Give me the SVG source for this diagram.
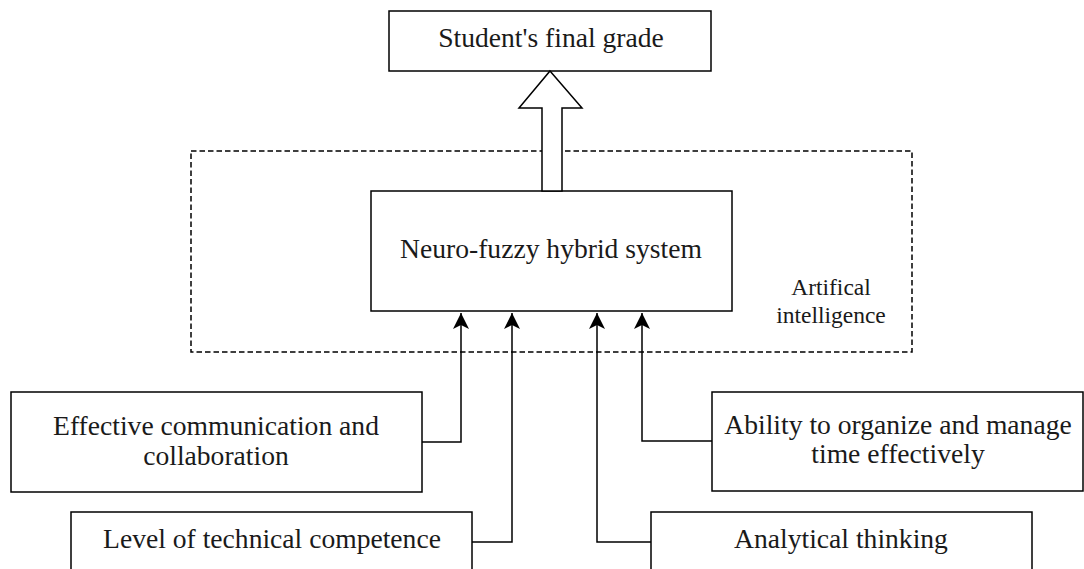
<svg xmlns="http://www.w3.org/2000/svg" width="1084" height="569" viewBox="0 0 1084 569">
<style>
.box{fill:#fff;stroke:#000;stroke-width:1.5}
.t{font-family:"Liberation Serif","Times New Roman",serif;font-size:27.6px;fill:#1a1a1a;text-anchor:middle}
.s{font-family:"Liberation Serif","Times New Roman",serif;font-size:23.5px;fill:#1a1a1a;text-anchor:middle}
.c{fill:none;stroke:#000;stroke-width:1.5}
</style>
<defs>
<marker id="ah" markerUnits="userSpaceOnUse" viewBox="0 0 16 16" markerWidth="16" markerHeight="16" refX="16" refY="8" orient="auto">
<path d="M0,0 L16,8 L0,16 L4,8 Z" fill="#000"/>
</marker>
</defs>
<rect width="1084" height="569" fill="#fff"/>
<g id="ai-region">
<rect x="191" y="151" width="721" height="201" fill="none" stroke="#000" stroke-width="1.5" stroke-dasharray="5.5,3"/>
<text class="s" x="831" y="295">Artifical</text>
<text class="s" x="831" y="323">intelligence</text>
</g>
<g id="final-grade">
<rect class="box" x="389" y="11" width="322" height="60"/>
<text class="t" x="551" y="47">Student's final grade</text>
</g>
<g id="neuro-fuzzy">
<rect class="box" x="371" y="191" width="361" height="120"/>
<text class="t" x="551" y="258">Neuro-fuzzy hybrid system</text>
</g>
<g id="communication">
<rect class="box" x="11" y="392" width="411" height="100"/>
<text class="t" x="216" y="435">Effective communication and</text>
<text class="t" x="216" y="465">collaboration</text>
</g>
<g id="technical">
<rect class="box" x="71" y="512" width="401" height="90"/>
<text class="t" x="272" y="548">Level of technical competence</text>
</g>
<g id="time-management">
<rect class="box" x="712" y="392" width="371" height="99"/>
<text class="t" x="898" y="434">Ability to organize and manage</text>
<text class="t" x="898" y="463">time effectively</text>
</g>
<g id="analytical">
<rect class="box" x="651" y="512" width="381" height="90"/>
<text class="t" x="841" y="548">Analytical thinking</text>
</g>
<g id="connectors">
<polygon points="550,71 582,108 562,108 562,191 542,191 542,108 519,108" fill="#fff" stroke="#000" stroke-width="1.5" stroke-linejoin="miter"/>
<path class="c" d="M422,442 H461 V313" marker-end="url(#ah)"/>
<path class="c" d="M472,542 H512 V313" marker-end="url(#ah)"/>
<path class="c" d="M651,542 H597 V313" marker-end="url(#ah)"/>
<path class="c" d="M712,441 H642 V313" marker-end="url(#ah)"/>
</g>
</svg>
